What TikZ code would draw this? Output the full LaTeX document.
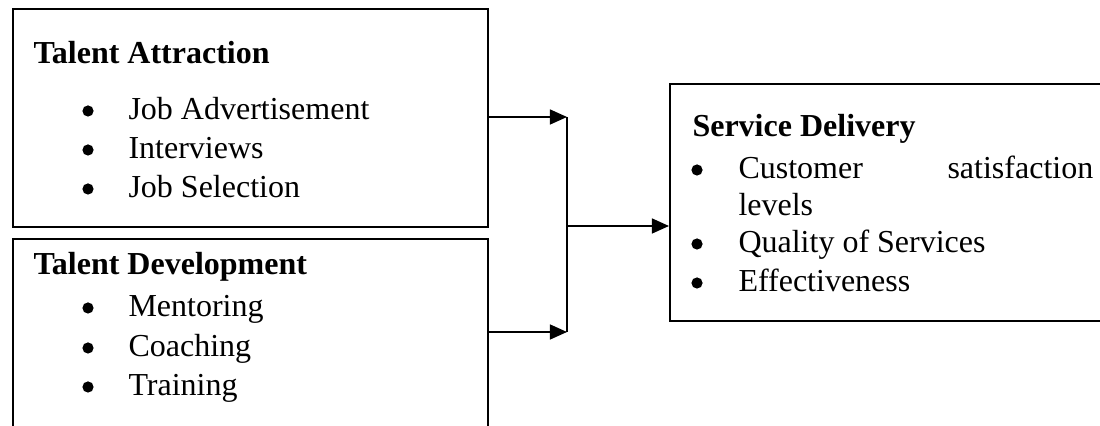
\documentclass[tikz,border=0pt]{standalone}
\usepackage{fontspec}
\setmainfont{Liberation Serif}
\usetikzlibrary{arrows.meta}
\begin{document}
\begin{tikzpicture}[x=0.375pt,y=-0.375pt,
  boxline/.style={draw=black,line width=0.65pt},
  head/.style={anchor=base west,inner sep=0pt,font=\fontsize{12}{14}\selectfont\bfseries},
  item/.style={anchor=base west,inner sep=0pt,font=\fontsize{12}{14}\selectfont},
  dot/.style={circle,fill=black,inner sep=0pt,minimum size=4.2pt},
  conn/.style={line width=0.65pt},
  arr/.style={conn,-{Triangle[length=6.4pt,width=5.6pt]}}]
\useasboundingbox (0,0) rectangle (1100,426);
\begin{scope}
\clip (0,0) rectangle (1100,426);
% boxes
\node[boxline,anchor=north west,inner sep=0pt,minimum width=475*0.375pt,minimum height=218*0.375pt] (box1) at (12,8) {};
\node[boxline,anchor=north west,inner sep=0pt,minimum width=475*0.375pt,minimum height=220*0.375pt] (box2) at (12,238) {};
\node[boxline,anchor=north west,inner sep=0pt,minimum width=450*0.375pt,minimum height=237*0.375pt] (box3) at (669,83) {};
\end{scope}
% box 1 text
\node[head] (h1) at (33,64) {Talent Attraction};
\node[dot] (b11) at (88,111) {};
\node[item] (t11) at (128,120) {Job Advertisement};
\node[dot] (b12) at (88,150) {};
\node[item] (t12) at (128,159) {Interviews};
\node[dot] (b13) at (88,189) {};
\node[item] (t13) at (128,198) {Job Selection};
% box 2 text
\node[head] (h2) at (33,275) {Talent Development};
\node[dot] (b21) at (88,308) {};
\node[item] (t21) at (128,317) {Mentoring};
\node[dot] (b22) at (88,348) {};
\node[item] (t22) at (128,357) {Coaching};
\node[dot] (b23) at (88,387) {};
\node[item] (t23) at (128,396) {Training};
% box 3 text
\node[head] (h3) at (692,137) {Service Delivery};
\node[dot] (b31) at (697,170) {};
\node[item] (t31) at (738,179) {Customer};
\node[item] (t31b) at (947,179) {satisfaction};
\node[item] (t31c) at (738,216) {levels};
\node[dot] (b32) at (697,244) {};
\node[item] (t32) at (738,253) {Quality of Services};
\node[dot] (b33) at (697,283) {};
\node[item] (t33) at (738,292) {Effectiveness};
% connectors
\coordinate (j1) at (567,117);
\coordinate (j2) at (567,332);
\coordinate (jm) at (567,226);
\draw[arr] (box1.east |- j1) -- (j1);
\draw[arr] (box2.east |- j2) -- (j2);
\draw[conn] (j1) -- (j2);
\draw[arr] (jm) -- (box3.west |- jm);
\end{tikzpicture}
\end{document}
